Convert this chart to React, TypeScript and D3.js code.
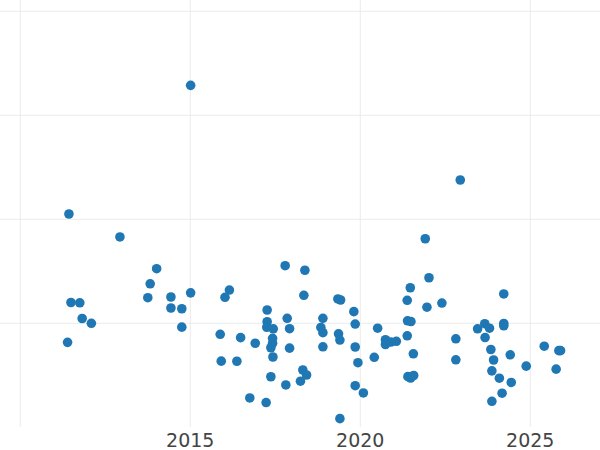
import React from "react";
import * as d3 from "d3";

const years: number[] = [
  2011.39, 2011.43, 2011.49, 2011.75, 2011.82, 2012.09, 2012.93, 2013.75, 2013.82, 2014.01,
  2014.43, 2014.43, 2014.75, 2014.75, 2015.01, 2015.01, 2015.88, 2015.91, 2016.02, 2016.15,
  2016.37, 2016.48, 2016.75, 2016.91, 2017.23, 2017.26, 2017.26, 2017.25, 2017.37, 2017.37,
  2017.42, 2017.42, 2017.43, 2017.44, 2017.79, 2017.81, 2017.85, 2017.92, 2017.92, 2018.24,
  2018.31, 2018.34, 2018.37, 2018.42, 2018.84, 2018.9, 2018.9, 2018.9, 2019.34, 2019.42,
  2019.36, 2019.4, 2019.4, 2019.81, 2019.85, 2019.85, 2019.85, 2019.93, 2020.09, 2020.41,
  2020.51, 2020.74, 2020.74, 2020.9, 2021.06, 2021.38, 2021.39, 2021.49, 2021.38, 2021.4,
  2021.48, 2021.57, 2021.47, 2021.56, 2021.91, 2021.96, 2022.02, 2022.4, 2022.94, 2022.81,
  2022.81, 2023.45, 2023.66, 2023.8, 2023.67, 2023.84, 2023.92, 2023.87, 2023.87, 2024.09,
  2024.17, 2024.22, 2024.22, 2024.22, 2024.41, 2024.44, 2024.88, 2025.41, 2025.76, 2025.84,
  2025.89,
];

const values: number[] = [
  8.17, 20.51, 12.0, 11.97, 10.46, 10.0, 18.3, 12.46, 13.8, 15.25,
  12.53, 11.47, 11.4, 9.63, 32.88, 12.93, 8.94, 6.36, 12.5, 13.2,
  6.35, 8.62, 2.82, 8.08, 2.38, 11.28, 10.15, 9.62, 4.86, 7.65,
  8.56, 8.08, 6.76, 9.47, 15.54, 4.07, 10.48, 9.48, 7.61, 4.43,
  5.51, 12.69, 15.1, 5.03, 9.6, 10.48, 9.1, 7.74, 12.34, 12.24,
  8.99, 8.39, 0.83, 11.12, 9.93, 7.72, 4.0, 6.21, 3.3, 6.73,
  9.53, 8.42, 7.96, 8.2, 8.27, 12.21, 10.24, 10.17, 8.8, 4.87,
  4.74, 4.98, 13.42, 7.07, 18.13, 11.55, 14.38, 11.95, 23.78, 8.51,
  6.49, 9.47, 9.96, 9.53, 8.63, 7.48, 6.47, 5.43, 2.5, 4.72,
  3.28, 12.82, 9.98, 9.76, 6.97, 4.31, 5.88, 7.8, 5.59, 7.37,
  7.37,
];

const xGridYears: number[] = [2010, 2015, 2020, 2025];
const xTickLabels: number[] = [2015, 2020, 2025];
const yGridValues: number[] = [10, 20, 30, 40];

const W = 600;
const H = 450;
const PLOT_BOTTOM = 427;

export default function App() {
  const x = d3.scaleLinear().domain([2010, 2025]).range([20.3, 530.3]);
  const y = d3.scaleLinear().domain([0, 40]).range([427.3, 11.3]);
  const pts = years.map((yr, i) => ({ yr, v: values[i] }));

  return (
    <svg
      width={W}
      height={H}
      style={{ position: "absolute", left: 0, top: 0, display: "block", background: "#fff" }}
    >
      <g>
        {yGridValues.map((v) => (
          <line key={"h" + v} x1={0} x2={W} y1={y(v)} y2={y(v)} stroke="#ebebeb" strokeWidth={1} />
        ))}
        {xGridYears.map((yr) => (
          <line key={"v" + yr} x1={x(yr)} x2={x(yr)} y1={0} y2={PLOT_BOTTOM} stroke="#ebebeb" strokeWidth={1} />
        ))}
      </g>
      <g>
        {pts.map((p, i) => (
          <circle key={i} cx={x(p.yr)} cy={y(p.v)} r={4.8} fill="#1f77b4" />
        ))}
      </g>
      <g>
        {xTickLabels.map((yr) => (
          <text
            key={"t" + yr}
            x={x(yr)}
            y={447}
            textAnchor="middle"
            fontFamily="'DejaVu Sans', sans-serif"
            fontSize={19}
            fill="#444"
          >
            {yr}
          </text>
        ))}
      </g>
    </svg>
  );
}
